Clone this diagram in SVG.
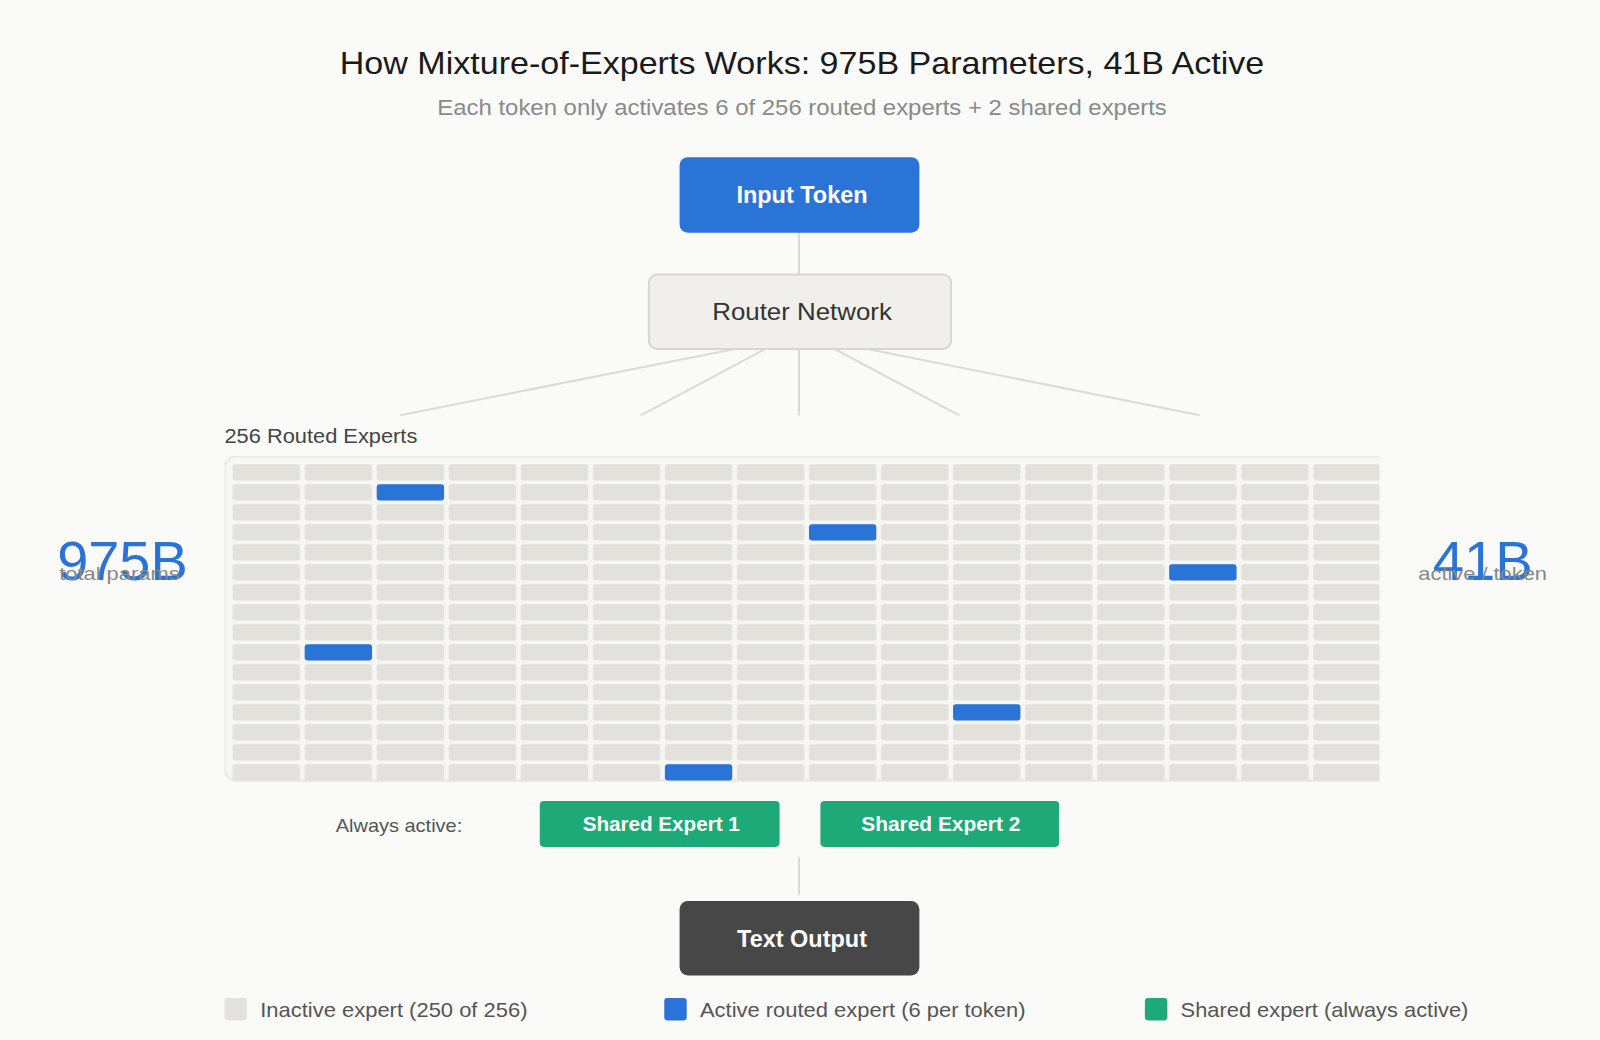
<svg xmlns="http://www.w3.org/2000/svg" width="1600" height="1040" viewBox="0 0 1600 1040">
<defs>
<style>
text{font-family:"Liberation Sans",Arial,sans-serif}
.c{fill:#e2e1dc}
.a{fill:#2a74d8}
.ln{stroke:#dcdad4;stroke-width:2;fill:none}
.lg{font-size:20px;fill:#555}
.b{font-weight:bold}
</style>
<clipPath id="gc"><rect x="220" y="447" width="1132" height="320"/></clipPath>
</defs>
<rect width="1600" height="1040" fill="#fafaf9"/>
<g transform="scale(1.0204)">
<text x="786" y="73" font-size="31" text-anchor="middle" fill="#1a1a1a" textLength="906" lengthAdjust="spacingAndGlyphs">How Mixture-of-Experts Works: 975B Parameters, 41B Active</text>
<text x="786" y="113" font-size="21" text-anchor="middle" fill="#8a8a8a" textLength="715" lengthAdjust="spacingAndGlyphs">Each token only activates 6 of 256 routed experts + 2 shared experts</text>
<g id="connectors">
<line class="ln" x1="783" y1="228" x2="783" y2="269"/>
<line class="ln" x1="720" y1="342" x2="392" y2="407"/>
<line class="ln" x1="750" y1="342" x2="628" y2="407"/>
<line class="ln" x1="783" y1="342" x2="783" y2="407"/>
<line class="ln" x1="818" y1="342" x2="940" y2="407"/>
<line class="ln" x1="850" y1="342" x2="1176" y2="407"/>
<line class="ln" x1="783" y1="840" x2="783" y2="877"/>
</g>
<g id="input"><rect x="666" y="154" width="235" height="74" rx="8" fill="#2a74d8"/>
<text class="b" x="786" y="199" font-size="23" text-anchor="middle" fill="#fff">Input Token</text></g>
<g id="router"><rect x="636" y="269" width="296" height="73" rx="8" fill="#f0efec" stroke="#d8d6d0" stroke-width="2"/>
<text x="786" y="314" font-size="23" text-anchor="middle" fill="#333" textLength="176" lengthAdjust="spacingAndGlyphs">Router Network</text></g>
<text x="220" y="434" font-size="19" fill="#444" textLength="189" lengthAdjust="spacingAndGlyphs">256 Routed Experts</text>
<g id="grid" clip-path="url(#gc)">
<rect x="220" y="447" width="1150" height="318" rx="12" fill="#f6f6f4" stroke="#e8e7e3" stroke-width="2"/>
<g id="cells">
<g id="r0"><rect class="c" x="228" y="455" width="66" height="16" rx="3"/><rect class="c" x="298.6" y="455" width="66" height="16" rx="3"/><rect class="c" x="369.2" y="455" width="66" height="16" rx="3"/><rect class="c" x="439.8" y="455" width="66" height="16" rx="3"/><rect class="c" x="510.4" y="455" width="66" height="16" rx="3"/><rect class="c" x="581" y="455" width="66" height="16" rx="3"/><rect class="c" x="651.6" y="455" width="66" height="16" rx="3"/><rect class="c" x="722.2" y="455" width="66" height="16" rx="3"/><rect class="c" x="792.8" y="455" width="66" height="16" rx="3"/><rect class="c" x="863.4" y="455" width="66" height="16" rx="3"/><rect class="c" x="934" y="455" width="66" height="16" rx="3"/><rect class="c" x="1004.6" y="455" width="66" height="16" rx="3"/><rect class="c" x="1075.2" y="455" width="66" height="16" rx="3"/><rect class="c" x="1145.8" y="455" width="66" height="16" rx="3"/><rect class="c" x="1216.4" y="455" width="66" height="16" rx="3"/><rect class="c" x="1287" y="455" width="66" height="16" rx="3"/></g>
<use href="#r0" y="19.6"/><use href="#r0" y="39.2"/><use href="#r0" y="58.8"/><use href="#r0" y="78.4"/><use href="#r0" y="98"/><use href="#r0" y="117.6"/><use href="#r0" y="137.2"/><use href="#r0" y="156.8"/><use href="#r0" y="176.4"/><use href="#r0" y="196"/><use href="#r0" y="215.6"/><use href="#r0" y="235.2"/><use href="#r0" y="254.8"/><use href="#r0" y="274.4"/><use href="#r0" y="294"/>
</g>
<rect class="a" x="369.2" y="474.6" width="66" height="16" rx="3"/>
<rect class="a" x="792.8" y="513.8" width="66" height="16" rx="3"/>
<rect class="a" x="1145.8" y="553" width="66" height="16" rx="3"/>
<rect class="a" x="298.6" y="631.4" width="66" height="16" rx="3"/>
<rect class="a" x="934" y="690.2" width="66" height="16" rx="3"/>
<rect class="a" x="651.6" y="749" width="66" height="16" rx="3"/>
</g>
<g id="stat-left"><text x="120" y="568" font-size="54" text-anchor="middle" fill="#2a74d8" textLength="128" lengthAdjust="spacingAndGlyphs">975B</text>
<text x="117" y="568" font-size="18" text-anchor="middle" fill="#888" textLength="118" lengthAdjust="spacingAndGlyphs">total params</text></g>
<g id="stat-right"><text x="1453" y="568" font-size="54" text-anchor="middle" fill="#2a74d8" textLength="98" lengthAdjust="spacingAndGlyphs">41B</text>
<text x="1453" y="568" font-size="18" text-anchor="middle" fill="#888" textLength="126" lengthAdjust="spacingAndGlyphs">active / token</text></g>
<text x="391" y="815" font-size="18" text-anchor="middle" fill="#555" textLength="124" lengthAdjust="spacingAndGlyphs">Always active:</text>
<g id="shared1"><rect x="529" y="785" width="235" height="45" rx="4" fill="#1daa78"/>
<text class="b" x="648" y="814" font-size="19" text-anchor="middle" fill="#fff" textLength="154" lengthAdjust="spacingAndGlyphs">Shared Expert 1</text></g>
<g id="shared2"><rect x="804" y="785" width="234" height="45" rx="4" fill="#1daa78"/>
<text class="b" x="922" y="814" font-size="19" text-anchor="middle" fill="#fff" textLength="156" lengthAdjust="spacingAndGlyphs">Shared Expert 2</text></g>
<g id="output"><rect x="666" y="883" width="235" height="73" rx="8" fill="#474747"/>
<text class="b" x="786" y="928" font-size="23" text-anchor="middle" fill="#fff">Text Output</text></g>
<g id="legend">
<rect x="220" y="978" width="22" height="22" rx="3" fill="#e2e1dc"/><text class="lg" x="255" y="997" textLength="262" lengthAdjust="spacingAndGlyphs">Inactive expert (250 of 256)</text>
<rect x="651" y="978" width="22" height="22" rx="3" fill="#2a74d8"/><text class="lg" x="686" y="997" textLength="319" lengthAdjust="spacingAndGlyphs">Active routed expert (6 per token)</text>
<rect x="1122" y="978" width="22" height="22" rx="3" fill="#1daa78"/><text class="lg" x="1157" y="997" textLength="282" lengthAdjust="spacingAndGlyphs">Shared expert (always active)</text>
</g>
</g>
</svg>
